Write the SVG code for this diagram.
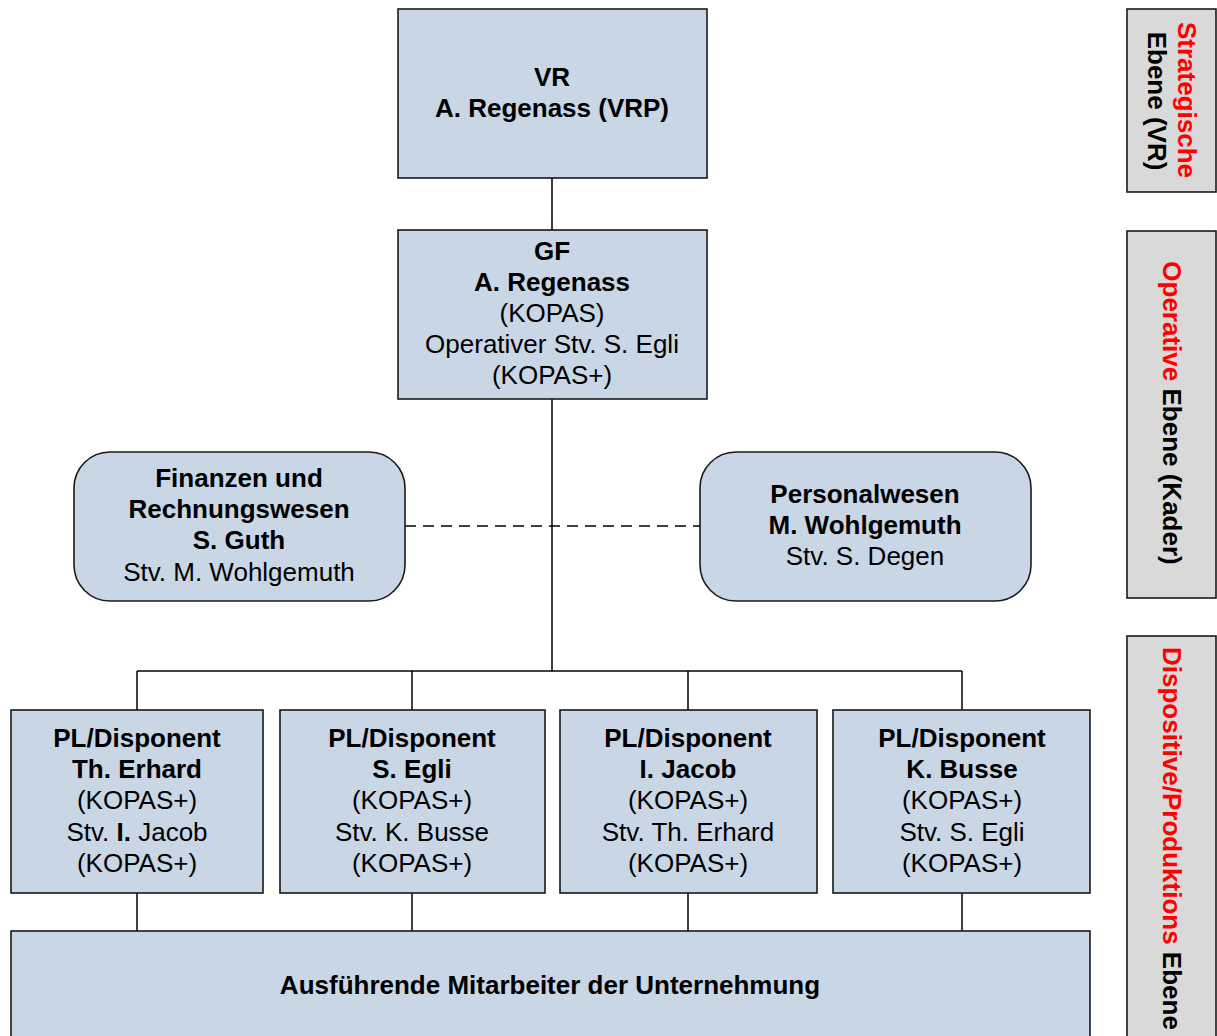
<svg xmlns="http://www.w3.org/2000/svg" width="1217" height="1036" viewBox="0 0 1217 1036">
<style>
.box{fill:#c9d6e6;stroke:#1a1a1a;stroke-width:1.6}
.side{fill:#d9d9d9;stroke:#1a1a1a;stroke-width:1.6}
.ln{stroke:#000;stroke-width:1.5;fill:none}
.dash{stroke:#000;stroke-width:1.5;fill:none;stroke-dasharray:11,7}
text{font-family:"Liberation Sans",Arial,sans-serif;font-size:26px;fill:#000;text-anchor:middle}
.b{font-weight:bold}
.red{fill:#ff0000}
</style>
<rect width="1217" height="1036" fill="#ffffff"/>
<g id="connectors">
<line class="ln" x1="552" y1="178" x2="552" y2="230"/>
<line class="ln" x1="552" y1="399" x2="552" y2="671"/>
<line class="dash" x1="405" y1="526" x2="700" y2="526"/>
<line class="ln" x1="137" y1="671" x2="962" y2="671"/>
<line class="ln" x1="137" y1="671" x2="137" y2="710"/>
<line class="ln" x1="412" y1="671" x2="412" y2="710"/>
<line class="ln" x1="688" y1="671" x2="688" y2="710"/>
<line class="ln" x1="962" y1="671" x2="962" y2="710"/>
<line class="ln" x1="137" y1="893" x2="137" y2="931"/>
<line class="ln" x1="412" y1="893" x2="412" y2="931"/>
<line class="ln" x1="688" y1="893" x2="688" y2="931"/>
<line class="ln" x1="962" y1="893" x2="962" y2="931"/>
</g>
<g id="vr">
<rect class="box" x="398" y="9" width="309" height="169"/>
<text class="b" x="552" y="86">VR</text>
<text class="b" x="552" y="117">A. Regenass (VRP)</text>
</g>
<g id="gf">
<rect class="box" x="398" y="230" width="309" height="169"/>
<text class="b" x="552" y="260">GF</text>
<text class="b" x="552" y="291">A. Regenass</text>
<text x="552" y="322">(KOPAS)</text>
<text x="552" y="353">Operativer Stv. S. Egli</text>
<text x="552" y="384">(KOPAS+)</text>
</g>
<g id="finanzen">
<rect class="box" x="74" y="452" width="331" height="149" rx="36" ry="36"/>
<text class="b" x="239" y="487">Finanzen und</text>
<text class="b" x="239" y="518">Rechnungswesen</text>
<text class="b" x="239" y="549">S. Guth</text>
<text x="239" y="581">Stv. M. Wohlgemuth</text>
</g>
<g id="personal">
<rect class="box" x="700" y="452" width="331" height="149" rx="36" ry="36"/>
<text class="b" x="865" y="503">Personalwesen</text>
<text class="b" x="865" y="534">M. Wohlgemuth</text>
<text x="865" y="565">Stv. S. Degen</text>
</g>
<g id="pl1">
<rect class="box" x="11" y="710" width="252" height="183"/>
<text class="b" x="137" y="747">PL/Disponent</text>
<text class="b" x="137" y="778">Th. Erhard</text>
<text x="137" y="809">(KOPAS+)</text>
<text x="137" y="841">Stv. <tspan class="b">I.</tspan> Jacob</text>
<text x="137" y="872">(KOPAS+)</text>
</g>
<g id="pl2">
<rect class="box" x="280" y="710" width="265" height="183"/>
<text class="b" x="412" y="747">PL/Disponent</text>
<text class="b" x="412" y="778">S. Egli</text>
<text x="412" y="809">(KOPAS+)</text>
<text x="412" y="841">Stv. K. Busse</text>
<text x="412" y="872">(KOPAS+)</text>
</g>
<g id="pl3">
<rect class="box" x="560" y="710" width="257" height="183"/>
<text class="b" x="688" y="747">PL/Disponent</text>
<text class="b" x="688" y="778">I. Jacob</text>
<text x="688" y="809">(KOPAS+)</text>
<text x="688" y="841">Stv. Th. Erhard</text>
<text x="688" y="872">(KOPAS+)</text>
</g>
<g id="pl4">
<rect class="box" x="833" y="710" width="257" height="183"/>
<text class="b" x="962" y="747">PL/Disponent</text>
<text class="b" x="962" y="778">K. Busse</text>
<text x="962" y="809">(KOPAS+)</text>
<text x="962" y="841">Stv. S. Egli</text>
<text x="962" y="872">(KOPAS+)</text>
</g>
<g id="mitarbeiter">
<rect class="box" x="11" y="931" width="1079" height="120"/>
<text class="b" x="550" y="994">Ausführende Mitarbeiter der Unternehmung</text>
</g>
<g id="ebene-strategisch">
<rect class="side" x="1127" y="9" width="89" height="183"/>
<text class="b red" transform="translate(1178,100) rotate(90)">Strategische</text>
<text class="b" transform="translate(1148,101) rotate(90)">Ebene (VR)</text>
</g>
<g id="ebene-operativ">
<rect class="side" x="1127" y="231" width="89" height="367"/>
<text class="b" transform="translate(1163,413) rotate(90)"><tspan class="red">Operative</tspan> Ebene (Kader)</text>
</g>
<g id="ebene-dispositiv">
<rect class="side" x="1127" y="636" width="89" height="420"/>
<text class="b" style="text-anchor:start" transform="translate(1163,647) rotate(90)"><tspan class="red">Dispositive/Produktions</tspan> Ebene</text>
</g>
</svg>
